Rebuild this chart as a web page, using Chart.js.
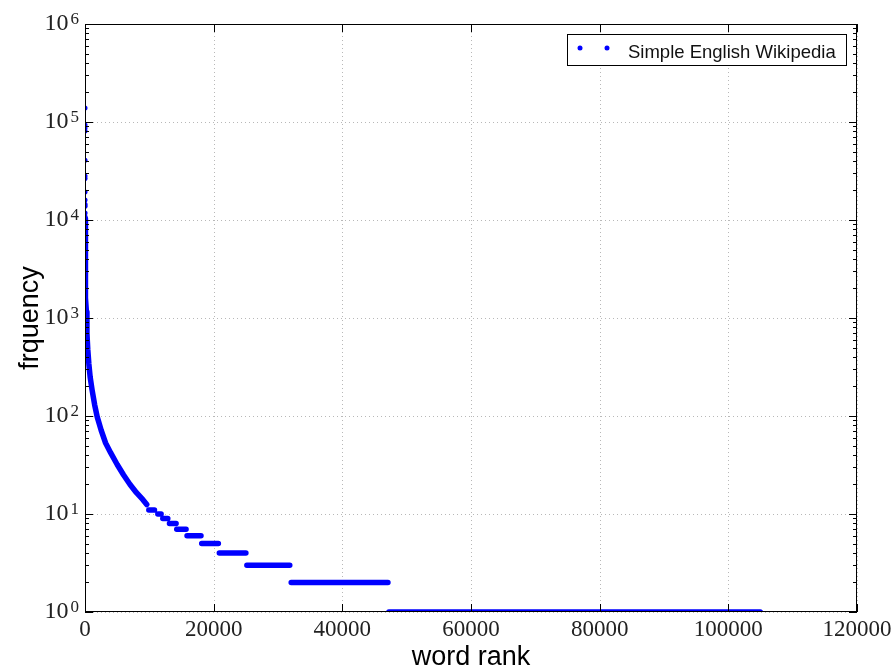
<!DOCTYPE html>
<html>
<head>
<meta charset="utf-8">
<title>word rank vs frequency</title>
<script src="https://cdn.jsdelivr.net/npm/chart.js@4/dist/chart.umd.min.js"></script>
<style>
  html,body{margin:0;padding:0;background:#fff;}
  canvas{display:block;}
</style>
</head>
<body>
<canvas id="zipf" width="893" height="668"></canvas>
<script>
// zipf plot — word rank vs frequency (Simple English Wikipedia)

const xTicks = [0, 20000, 40000, 60000, 80000, 100000, 120000];
const yDecades = [0, 1, 2, 3, 4, 5, 6];

// most common words, one dot each (all sit on the left edge)
const topRank = [1, 2, 3, 4, 5, 6, 7, 8, 9, 10, 11, 12, 13];
const topFreq = [139000, 93000, 87000, 81000, 40800, 28100, 26500, 19300, 16000, 14500, 13800, 11800, 10800];

// continuous part of the curve
const curveRank = [15, 20, 30, 45, 70, 100, 150, 220, 300, 430, 600, 800, 1100, 1500, 1900, 2500, 3200, 4000, 5000, 6000, 7000, 8000, 9000, 9600];
const curveFreq = [10300, 8200, 6000, 4300, 3000, 2300, 1600, 1150, 700, 480, 340, 250, 185, 130, 98, 72, 53, 42, 32, 25, 20, 16.5, 14, 12.5];

// flat runs: words that share the same count
const stepFreq = [11, 10, 9, 8, 7, 6, 5, 4, 3, 2, 1];
const stepFrom = [9920, 11320, 12090, 13130, 14260, 15860, 18140, 20880, 25160, 32050, 47240];
const stepTo   = [10800, 11830, 12870, 14160, 15710, 18030, 20730, 25010, 31830, 47090, 104960];

const seriesName = 'Simple English Wikipedia';
const BLUE = '#0000ff';
const SERIF = '"Liberation Serif", "DejaVu Serif", serif';
const SANS = '"Liberation Sans", Arial, sans-serif';

function lineData(){
  const pts = curveRank.map((r, i) => ({ x: r, y: curveFreq[i] }));
  stepFreq.forEach((f, i) => {
    pts.push({ x: stepFrom[i], y: null }); // break the line
    pts.push({ x: stepFrom[i], y: f });
    pts.push({ x: stepTo[i], y: f });
  });
  return pts;
}

function seg(ctx, x1, y1, x2, y2){
  ctx.beginPath(); ctx.moveTo(x1, y1); ctx.lineTo(x2, y2); ctx.stroke();
}

// matplotlib-ish frame, dotted grid, inward ticks, mathtext-like labels
const decor = {
  id: 'decor',
  beforeDatasetsDraw(chart){
    const { ctx, chartArea: a, scales: { x, y } } = chart;
    ctx.save();
    ctx.strokeStyle = '#b8b8b8';
    ctx.lineWidth = 1;
    ctx.setLineDash([1, 3]);
    xTicks.forEach(v => {
      const px = Math.round(x.getPixelForValue(v)) + .5;
      seg(ctx, px, a.top, px, a.bottom);
    });
    yDecades.forEach(d => {
      const py = Math.round(y.getPixelForValue(Math.pow(10, d))) + .5;
      seg(ctx, a.left, py, a.right, py);
    });
    ctx.restore();
  },
  afterDraw(chart){
    const { ctx, chartArea: a, scales: { x, y } } = chart;
    ctx.save();
    ctx.strokeStyle = '#000';
    ctx.lineWidth = 1;
    ctx.strokeRect(a.left + .5, a.top + .5, a.right - a.left - 1, a.bottom - a.top - 1);

    // x ticks (bottom + top)
    xTicks.forEach(v => {
      const px = Math.round(x.getPixelForValue(v)) + .5;
      seg(ctx, px, a.bottom, px, a.bottom - 8);
      seg(ctx, px, a.top, px, a.top + 8);
    });
    // y ticks, major + log minor (left + right)
    yDecades.forEach(d => {
      const py = Math.round(y.getPixelForValue(Math.pow(10, d))) + .5;
      seg(ctx, a.left, py, a.left + 8, py);
      seg(ctx, a.right, py, a.right - 8, py);
      if(d === 6) return;
      for(let m = 2; m <= 9; m++){
        const my = Math.round(y.getPixelForValue(m * Math.pow(10, d))) + .5;
        seg(ctx, a.left, my, a.left + 4, my);
        seg(ctx, a.right, my, a.right - 4, my);
      }
    });

    // tick labels
    ctx.fillStyle = '#222';
    ctx.textBaseline = 'alphabetic';
    ctx.font = '23px ' + SERIF;
    ctx.textAlign = 'center';
    xTicks.forEach(v => {
      ctx.fillText(String(v), x.getPixelForValue(v), 636);
    });
    yDecades.forEach(d => {
      const py = y.getPixelForValue(Math.pow(10, d));
      const exp = String(d);
      ctx.font = '17px ' + SERIF;
      const wExp = ctx.measureText(exp).width;
      ctx.textAlign = 'left';
      ctx.fillText(exp, 79 - wExp, py);
      ctx.font = '24px ' + SERIF;
      ctx.textAlign = 'right';
      ctx.fillText('10', 79 - wExp - 2, py + 6);
    });

    // axis titles
    ctx.fillStyle = '#000';
    ctx.font = '27px ' + SANS;
    ctx.textAlign = 'center';
    ctx.fillText('word rank', (a.left + a.right) / 2, 665);
    ctx.save();
    ctx.translate(37.5, (a.top + a.bottom) / 2);
    ctx.rotate(-Math.PI / 2);
    ctx.fillText('frquency', 0, 0);
    ctx.restore();

    // legend box, two dots like numpoints=2
    ctx.fillStyle = '#fff';
    ctx.fillRect(567, 34, 280, 32);
    ctx.strokeStyle = '#000';
    ctx.strokeRect(567.5, 34.5, 279, 31);
    ctx.fillStyle = BLUE;
    [580, 607].forEach(cx => {
      ctx.beginPath(); ctx.arc(cx, 48, 2.5, 0, Math.PI * 2); ctx.fill();
    });
    ctx.fillStyle = '#111';
    ctx.font = '18.5px ' + SANS;
    ctx.textAlign = 'left';
    ctx.fillText(seriesName, 628, 58);
    ctx.restore();
  }
};

new Chart(document.getElementById('zipf'), {
  type: 'scatter',
  data: {
    datasets: [
      {
        label: seriesName,
        data: lineData(),
        showLine: true,
        spanGaps: false,
        borderColor: BLUE,
        backgroundColor: BLUE,
        borderWidth: 5.5,
        borderCapStyle: 'round',
        borderJoinStyle: 'round',
        tension: 0,
        pointRadius: 0,
        clip: 0
      },
      {
        label: seriesName + ' (top)',
        data: topRank.map((r, i) => ({ x: r, y: topFreq[i] })),
        showLine: false,
        pointRadius: 2.5,
        pointBorderWidth: 0,
        pointBackgroundColor: BLUE,
        clip: 0
      }
    ]
  },
  options: {
    responsive: false,
    devicePixelRatio: 1,
    animation: false,
    events: [],
    layout: { autoPadding: false, padding: { left: 85, right: 36, top: 24, bottom: 56 } },
    plugins: { legend: { display: false }, tooltip: { enabled: false } },
    scales: {
      x: {
        type: 'linear', min: 0, max: 120000,
        ticks: { display: false }, grid: { display: false }, border: { display: false },
        afterFit(s){ s.height = 0; }
      },
      y: {
        type: 'logarithmic', min: 1, max: 1e6,
        ticks: { display: false }, grid: { display: false }, border: { display: false },
        afterFit(s){ s.width = 0; }
      }
    }
  },
  plugins: [decor]
});
</script>
</body>
</html>
